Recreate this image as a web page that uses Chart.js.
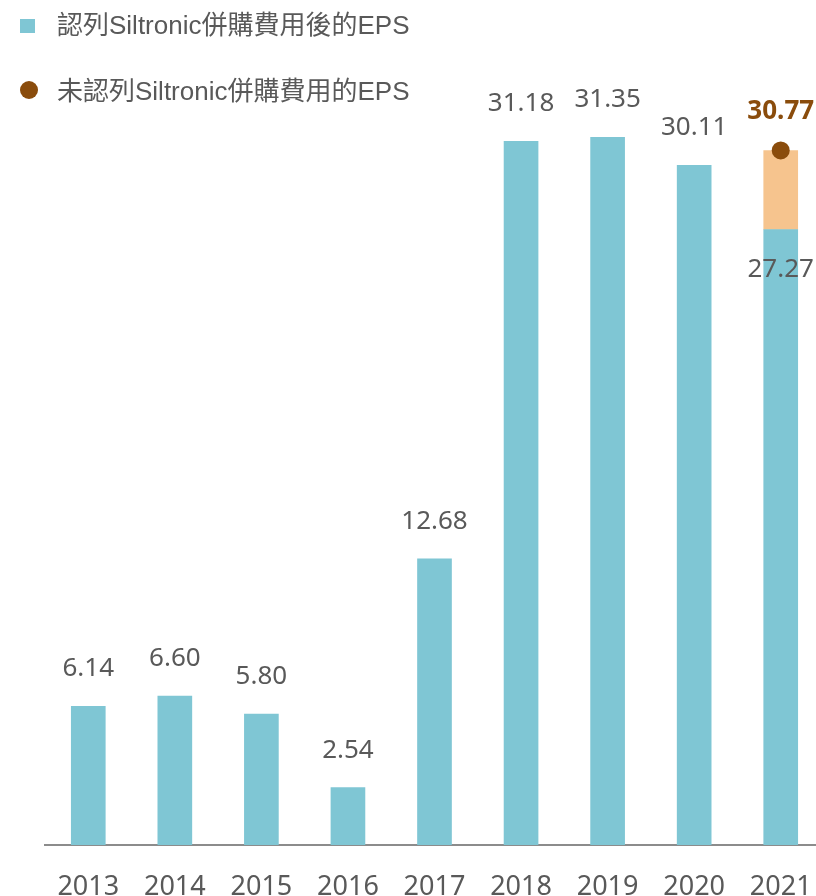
<!DOCTYPE html>
<html>
<head>
<meta charset="utf-8">
<script src="https://cdn.jsdelivr.net/npm/chart.js@4.4.0/dist/chart.umd.min.js"></script>
<style>
  html, body { margin: 0; padding: 0; background: #fff; overflow: hidden; }
  #wrap { width: 824px; height: 896px; }
  #epsChart { display: block; width: 824px; height: 896px; }
</style>
</head>
<body>
<div id="wrap"><canvas id="epsChart" width="824" height="896"></canvas></div>
<script>
const years = ["2013", "2014", "2015", "2016", "2017", "2018", "2019", "2020", "2021"];
const epsAfter = [6.14, 6.60, 5.80, 2.54, 12.68, 31.18, 31.35, 30.11, 27.27];
const epsBefore = [null, null, null, null, null, null, null, null, 30.77];
const legendNames = ["認列Siltronic併購費用後的EPS", "未認列Siltronic併購費用的EPS"];

const TEAL = "#7fc6d4";
const ORANGE = "#f6c48e";
const BROWN = "#8a4c0c";
const GREY = "#595959";

// orange piece = gap between the two EPS figures
const epsGap = epsBefore.map((v, i) => v === null ? null : +(v - epsAfter[i]).toFixed(2));

const labelPlugin = {
    id: "labels",
    afterDatasetsDraw(chart) {
        const ctx = chart.ctx;
        const barMeta = chart.getDatasetMeta(0);
        const dotMeta = chart.getDatasetMeta(2);
        ctx.save();
        ctx.textAlign = "center";
        ctx.textBaseline = "alphabetic";
        ctx.font = "26px 'Noto Sans'";
        ctx.fillStyle = GREY;
        barMeta.data.forEach((bar, i) => {
            const txt = epsAfter[i].toFixed(2);
            if (epsBefore[i] === null) {
                ctx.fillText(txt, bar.x, bar.y - 30);
            } else {
                ctx.fillText(txt, bar.x, bar.y + 48);
            }
        });
        dotMeta.data.forEach((pt, i) => {
            if (epsBefore[i] === null) return;
            ctx.font = "bold 26px 'Noto Sans'";
            ctx.fillStyle = BROWN;
            ctx.fillText(epsBefore[i].toFixed(2), pt.x, pt.y - 31);
        });

        // legend
        ctx.textAlign = "left";
        ctx.font = "26px 'Liberation Sans', 'Noto Sans CJK TC'";
        ctx.fillStyle = TEAL;
        ctx.fillRect(20, 19, 15, 14);
        ctx.fillStyle = GREY;
        ctx.fillText(legendNames[0], 57, 34);
        ctx.fillStyle = BROWN;
        ctx.beginPath();
        ctx.arc(29, 90, 9, 0, Math.PI * 2);
        ctx.fill();
        ctx.fillStyle = GREY;
        ctx.fillText(legendNames[1], 57, 100);
        ctx.restore();
    }
};

const ctx = document.getElementById("epsChart").getContext("2d");
new Chart(ctx, {
    data: {
        labels: years,
        datasets: [
            {
                type: "bar",
                label: legendNames[0],
                data: epsAfter,
                backgroundColor: TEAL,
                stack: "eps",
                barThickness: 34,
                order: 2
            },
            {
                type: "bar",
                label: "gap",
                data: epsGap,
                backgroundColor: ORANGE,
                stack: "eps",
                barThickness: 34,
                order: 2
            },
            {
                type: "line",
                label: legendNames[1],
                data: epsBefore,
                showLine: false,
                pointRadius: 9,
                pointBackgroundColor: BROWN,
                pointBorderWidth: 0,
                order: 1
            }
        ]
    },
    options: {
        responsive: false,
        animation: false,
        devicePixelRatio: 1,
        layout: { autoPadding: false, padding: { top: 55, left: 45, right: 0, bottom: 0 } },
        plugins: {
            legend: { display: false },
            tooltip: { enabled: false }
        },
        scales: {
            x: {
                stacked: true,
                grid: { display: false, drawTicks: false },
                border: { display: true, color: "#8c8c8c", width: 2 },
                ticks: {
                    color: GREY,
                    font: { family: "'Noto Sans'", size: 27 },
                    padding: 26,
                    maxRotation: 0
                },
                afterFit: scale => {
                    scale.height = 51;
                    scale.paddingLeft = 0;
                    scale.paddingRight = 0;
                }
            },
            y: {
                stacked: true,
                display: false,
                min: 0,
                max: 35
            }
        }
    },
    plugins: [labelPlugin]
});
</script>
</body>
</html>
